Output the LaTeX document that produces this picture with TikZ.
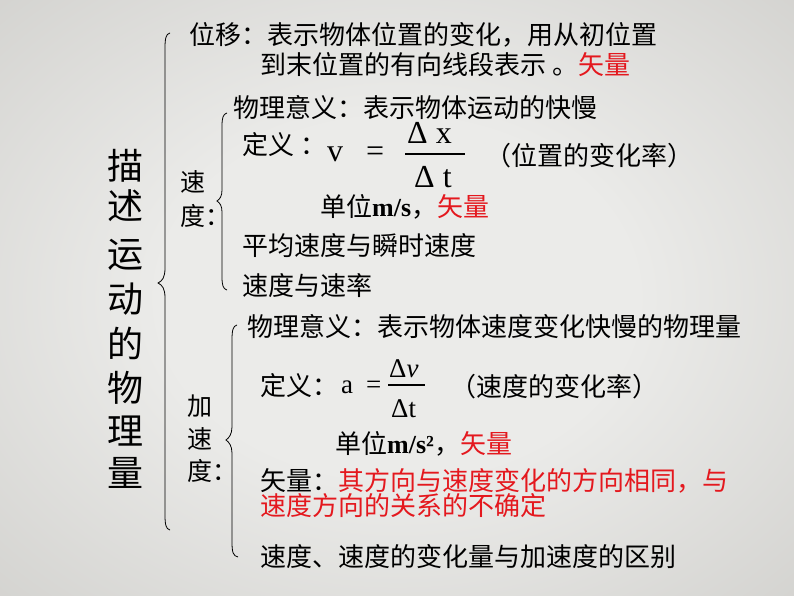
\documentclass[tikz,border=0pt]{standalone}
\usepackage{fontspec}
\setmainfont{Noto Sans CJK SC}
\newfontfamily\tms{Liberation Serif}
\definecolor{keyred}{RGB}{228,24,30}
\definecolor{bgin}{RGB}{235,235,233}
\definecolor{bgout}{RGB}{194,193,189}
\pgfdeclareradialshading{slidebg}{\pgfpoint{0bp}{0bp}}{color(0bp)=(bgin); color(15bp)=(bgin); color(52bp)=(bgout)}

\begin{document}
\begin{tikzpicture}[x=1pt, y=-1pt,
    txt/.style={anchor=base west, inner sep=0pt, font=\fontsize{26}{30}\selectfont},
    lbl/.style={anchor=base west, inner sep=0pt, font=\fontsize{25}{29}\selectfont},
    big/.style={inner sep=0pt, font=\fontsize{36}{40}\selectfont},
    frm/.style={anchor=base west, inner sep=0pt, font=\tms\fontsize{32}{36}\selectfont},
    frs/.style={anchor=base west, inner sep=0pt, font=\tms\fontsize{27}{31}\selectfont},
    curly/.style={draw, line width=0.8pt},
    bar/.style={draw, line width=1.1pt}]
    \shade[shading=slidebg] (0,0) rectangle (794,596);
    \useasboundingbox (0,0) rectangle (794,596);

    % title, read top to bottom
    \node[big] (t0) at (125,166) {描};
    \node[big] (t1) at (125,206) {述};
    \node[big] (t2) at (125,255) {运};
    \node[big] (t3) at (125,299) {动};
    \node[big] (t4) at (125,343) {的};
    \node[big] (t5) at (125,388) {物};
    \node[big] (t6) at (125,431) {理};
    \node[big] (t7) at (125,473) {量};
    \path[curly] (170,33) .. controls (166,34) and (165,38) .. (165,48) -- (165,268)
      .. controls (165,278) and (162,281) .. (158,283)
      .. controls (162,285) and (165,288) .. (165,298) -- (165,515)
      .. controls (165,525) and (166,529) .. (170,530);

    % displacement
    \node[txt] (disp) at (189,45) {位移：表示物体位置的变化，用从初位置};
    \node[txt] (disp2) at (260,75) {到末位置的有向线段表示 。\textcolor{keyred}{矢量}};

    % velocity
    \node[lbl] (vel1) at (180,191) {速};
    \node[lbl] (vel2) at (180,225) {度：};
    \path[curly] (227,113) .. controls (223,114) and (222,118) .. (222,126) -- (222,190)
      .. controls (222,196) and (220,199) .. (217,201)
      .. controls (220,203) and (222,206) .. (222,212) -- (222,277)
      .. controls (222,285) and (223,289) .. (227,290);
    \node[txt] (vmean) at (233,118) {物理意义：表示物体运动的快慢};
    \node[txt] (vdef) at (242,155) {定义 ：};
    \node[frm] (vv) at (327,162) {v};
    \node[frm] (veq) at (366,162) {=};
    \node[frm] (vnum) at (407,144) {Δ x};
    \node[frm] (vden) at (414,187) {Δ t};
    \path[bar] (405,154) -- (465,154);
    \node[txt] (vrate) at (485,165) {（位置的变化率）};
    \node[txt] (vunit) at (320,216) {单位{\tms\bfseries m/s}，\textcolor{keyred}{矢量}};
    \node[txt] (vinst) at (242,255) {平均速度与瞬时速度};
    \node[txt] (vspeed) at (242,295) {速度与速率};

    % acceleration
    \node[lbl] (acc1) at (187,415) {加};
    \node[lbl] (acc2) at (187,448) {速};
    \node[lbl] (acc3) at (187,480) {度：};
    \path[curly] (237,325) .. controls (233,326) and (232,330) .. (232,340) -- (232,427)
      .. controls (232,434) and (229,438) .. (226,440)
      .. controls (229,442) and (232,446) .. (232,453) -- (232,542)
      .. controls (232,552) and (233,556) .. (238,557);
    \node[txt] (amean) at (247,336) {物理意义：表示物体速度变化快慢的物理量};
    \node[txt] (adef) at (260,395) {定义：};
    \node[frs] (aa) at (341,393) {a};
    \node[frs] (aeq) at (366,393) {=};
    \node[frs] (anum) at (389,377) {Δ\textit{v}};
    \node[frs] (aden) at (391,417) {Δt};
    \path[bar] (388,385) -- (425,385);
    \node[txt] (arate) at (450,396) {（速度的变化率）};
    \node[txt] (aunit) at (335,453) {单位{\tms\bfseries m/s²}，\textcolor{keyred}{矢量}};
    \node[txt] (adir) at (260,490) {矢量：\textcolor{keyred}{其方向与速度变化的方向相同，与}};
    \node[txt, text=keyred] (adir2) at (260,515) {速度方向的关系的不确定};
    \node[txt] (adiff) at (260,566) {速度、速度的变化量与加速度的区别};
\end{tikzpicture}
\end{document}
